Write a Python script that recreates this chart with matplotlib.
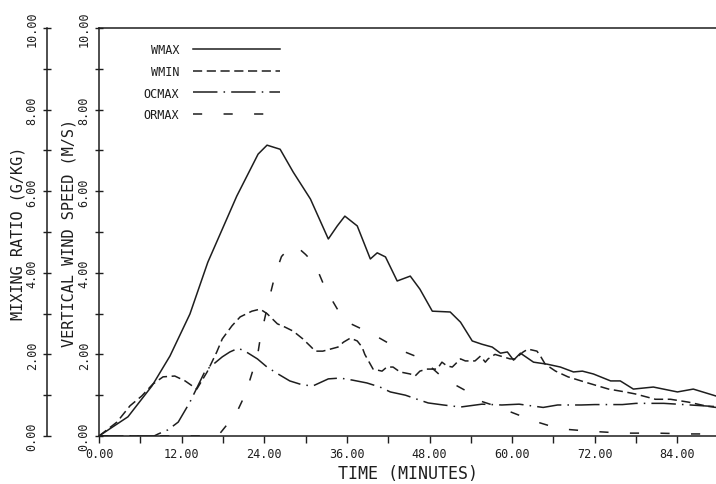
import numpy as np
import matplotlib
matplotlib.use("Agg")
import matplotlib.pyplot as plt
from matplotlib.ticker import MultipleLocator, FixedLocator, FormatStrFormatter

plt.rcParams['font.family'] = ['DejaVu Sans Mono']

# values (time in minutes)
wmax_t = [0, 4.2, 7.7, 10.3, 13.2, 15.8, 20.0, 23.1, 24.4, 26.3, 28.2, 30.7, 33.3, 34.6, 35.7,
          37.5, 39.4, 40.4, 41.6, 43.3, 45.2, 46.6, 48.4, 51.0, 52.5, 54.2, 55.6, 57.1, 58.3,
          59.3, 60.2, 61.2, 63.1, 65.1, 67.0, 68.9, 70.2, 71.8, 74.3, 75.7, 77.6, 80.5, 84.0,
          86.3, 89.6]
wmax_v = [0, 0.47, 1.23, 1.96, 2.99, 4.26, 5.88, 6.91, 7.13, 7.03, 6.47, 5.81, 4.83, 5.15, 5.39,
          5.15, 4.34, 4.49, 4.39, 3.80, 3.92, 3.60, 3.06, 3.04, 2.79, 2.33, 2.25, 2.18, 2.03,
          2.06, 1.86, 2.03, 1.81, 1.76, 1.69, 1.57, 1.59, 1.52, 1.35, 1.35, 1.15, 1.20, 1.08,
          1.15, 0.98]

wmin_t = [0, 2.6, 4.5, 6.2, 7.8, 9.3, 11.0, 12.5, 14.2, 15.7, 17.1, 17.9, 19.3, 20.5, 22.2,
          23.4, 24.4, 25.9, 27.0, 28.2, 29.6, 30.7, 31.4, 32.5, 33.6, 34.7, 35.5, 36.5, 37.5,
          38.2, 38.6, 39.4, 39.8, 41.1, 41.8, 42.7, 43.7, 45.2, 45.9, 46.6, 47.6, 49.1, 49.8,
          50.5, 51.3, 52.5, 53.2, 54.6, 55.4, 56.1, 56.5, 57.5, 58.3, 59.7, 60.4, 61.6, 62.3,
          63.6, 64.1, 64.8, 66.3, 68.1, 70.6, 74.0, 76.4, 77.9, 80.8, 83.0, 85.6, 88.3, 89.6]
wmin_v = [0, 0.34, 0.74, 0.98, 1.27, 1.45, 1.47, 1.35, 1.15, 1.57, 2.06, 2.38, 2.70, 2.92, 3.06,
          3.11, 3.00, 2.75, 2.67, 2.57, 2.38, 2.20, 2.08, 2.08, 2.13, 2.18, 2.30, 2.40, 2.33,
          2.18, 2.00, 1.76, 1.64, 1.59, 1.69, 1.69, 1.57, 1.52, 1.47, 1.59, 1.64, 1.64, 1.81,
          1.72, 1.69, 1.89, 1.84, 1.84, 1.96, 1.81, 1.89, 2.00, 1.96, 1.89, 1.89, 2.06, 2.13,
          2.08, 1.96, 1.76, 1.59, 1.45, 1.32, 1.15, 1.08, 1.03, 0.90, 0.90, 0.83, 0.73, 0.70]

ocmax_t = [0, 8.0, 8.6, 10.0, 11.5, 13.2, 15.4, 17.9, 19.0, 20.2, 21.2, 23.0, 24.4, 26.0, 27.7,
           29.6, 31.1, 33.3, 35.0, 36.8, 38.9, 40.8, 42.3, 44.5, 46.2, 47.8, 50.0, 52.5, 55.6,
           58.5, 61.0, 64.5, 66.6, 70.0, 72.0, 76.0, 78.0, 82.0, 84.0, 89.6]
ocmax_v = [0, 0, 0.05, 0.15, 0.34, 0.83, 1.59, 1.94, 2.06, 2.15, 2.08, 1.89, 1.69, 1.52, 1.35,
           1.25, 1.23, 1.40, 1.42, 1.37, 1.30, 1.20, 1.08, 1.00, 0.90, 0.81, 0.76, 0.71, 0.78,
           0.76, 0.78, 0.70, 0.76, 0.76, 0.77, 0.77, 0.80, 0.80, 0.78, 0.72]

ormax_t = [0, 16.5, 17.5, 18.7, 19.5, 20.9, 21.5, 22.4, 23.0, 23.4, 24.7, 25.6, 26.5, 27.7, 28.8,
           30.0, 31.4, 32.9, 35.0, 35.7, 38.2, 39.7, 42.3, 43.4, 46.2, 47.4, 49.8, 51.0, 53.6,
           54.6, 57.5, 58.7, 61.6, 63.1, 66.0, 67.4, 71.0, 76.0, 81.0, 86.0, 89.6]
ormax_v = [0, 0, 0.05, 0.30, 0.40, 0.90, 1.15, 1.64, 1.95, 2.38, 3.36, 3.97, 4.40, 4.62, 4.63,
           4.45, 4.20, 3.60, 3.00, 2.82, 2.62, 2.50, 2.25, 2.13, 1.94, 1.81, 1.45, 1.32, 1.08,
           0.90, 0.74, 0.66, 0.47, 0.37, 0.22, 0.17, 0.12, 0.07, 0.07, 0.05, 0.05]

y_ticks = [0, 2, 4, 6, 8, 10]
y_minor = [1, 3, 5, 7, 9]

ink = '#1e1e1e'

fig = plt.figure(figsize=(7.16, 4.85), dpi=100)
ax = fig.add_axes([0.1383, 0.099, 0.8617, 0.841])

ax.plot(wmax_t, wmax_v, color=ink, lw=1.1, linestyle='-', label='WMAX')
ax.plot(wmin_t, wmin_v, color=ink, lw=1.1, linestyle=(0, (6, 3)), label='WMIN')
ax.plot(ocmax_t, ocmax_v, color=ink, lw=1.1, linestyle=(0, (16, 4, 1, 4)), label='OCMAX')
ax.plot(ormax_t, ormax_v, color=ink, lw=1.1, linestyle=(0, (6, 14)), label='ORMAX')

ax.set_xlim(0, 89.6)
ax.set_ylim(0, 10)

for s in ['left', 'bottom', 'top']:
    ax.spines[s].set_color(ink)
    ax.spines[s].set_linewidth(1.1)
ax.spines['right'].set_visible(False)

ax.xaxis.set_major_locator(MultipleLocator(12))
ax.xaxis.set_minor_locator(MultipleLocator(6))
ax.xaxis.set_major_formatter(FormatStrFormatter('%.2f'))
ax.yaxis.set_major_locator(FixedLocator(y_ticks))
ax.yaxis.set_minor_locator(FixedLocator(y_minor))
ax.yaxis.set_major_formatter(FormatStrFormatter('%.2f'))

ax.tick_params(axis='x', which='both', direction='out', length=5, width=1, colors=ink,
               labelsize=8.5, pad=3)
ax.tick_params(axis='y', which='both', direction='inout', length=6, width=1, colors=ink,
               labelsize=8.5, pad=3, labelrotation=90)
for lab in ax.get_yticklabels():
    lab.set_va('center')

ax.set_xlabel('TIME (MINUTES)', fontsize=12, color=ink, labelpad=3)
ax.set_ylabel('VERTICAL WIND SPEED (M/S)', fontsize=11, color=ink, labelpad=1)

# outer mixing ratio axis
sec = ax.secondary_yaxis(-52 / 617)
sec.spines['left'].set_color(ink)
sec.spines['left'].set_linewidth(1.1)
sec.yaxis.set_major_locator(FixedLocator(y_ticks))
sec.yaxis.set_minor_locator(FixedLocator(y_minor))
sec.yaxis.set_major_formatter(FormatStrFormatter('%.2f'))
sec.tick_params(axis='y', which='both', direction='inout', length=6, width=1, colors=ink,
                labelsize=8.5, pad=3, labelrotation=90)
for lab in sec.get_yticklabels():
    lab.set_va('center')
sec.set_ylabel('MIXING RATIO (G/KG)', fontsize=11, color=ink, labelpad=0)

leg = ax.legend(loc='upper left', bbox_to_anchor=(0.055, 0.99), frameon=False,
                markerfirst=False, handlelength=7.3, handletextpad=1.2,
                labelspacing=0.75, fontsize=8.5)
for t in leg.get_texts():
    t.set_color(ink)

fig.savefig('out.png', dpi=100)
